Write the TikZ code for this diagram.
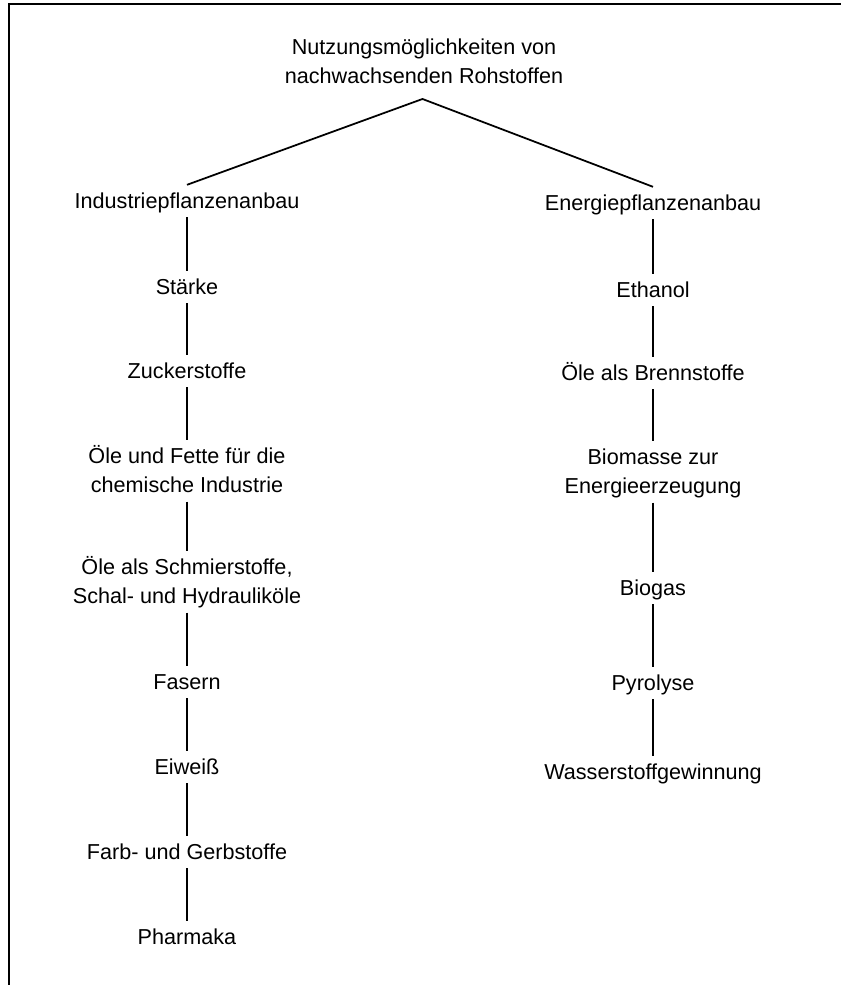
\documentclass[tikz,border=0pt]{standalone}
\usepackage{fontspec}
\setmainfont{Liberation Sans}

\begin{document}
\begin{tikzpicture}[
  item/.style={font=\fontsize{12.3}{16.5}\selectfont, align=center,
    inner sep=0pt, outer sep=4pt, text height=9.2pt, text depth=1.2pt},
  item2/.style={item, text height=25.7pt},
  link/.style={line width=1pt}
]

\useasboundingbox (0,0) rectangle (16.82,19.70);

% Frame (top and left edge only)
\draw[line width=1.5pt] (0.18,0) -- (0.18,19.62) -- (16.82,19.62);

% Title and branching point
\node[item2] (title) at (8.48,18.46) {Nutzungsmöglichkeiten von\\nachwachsenden Rohstoffen};
\coordinate (apex) at (8.45,17.72);

% Left branch
\node[item] (ind) at (3.74,15.68) {Industriepflanzenanbau};
\node[item] (staerke) at (3.74,13.96) {Stärke};
\node[item] (zucker) at (3.74,12.28) {Zuckerstoffe};
\node[item2] (fette) at (3.74,10.28) {Öle und Fette für die\\chemische Industrie};
\node[item2] (schmier) at (3.74,8.06) {Öle als Schmierstoffe,\\Schal- und Hydrauliköle};
\node[item] (fasern) at (3.74,6.06) {Fasern};
\node[item] (eiweiss) at (3.74,4.36) {Eiweiß};
\node[item] (farb) at (3.74,2.66) {Farb- und Gerbstoffe};
\node[item] (pharma) at (3.74,0.96) {Pharmaka};

% Right branch
\node[item] (ene) at (13.06,15.64) {Energiepflanzenanbau};
\node[item] (ethanol) at (13.06,13.90) {Ethanol};
\node[item] (brenn) at (13.06,12.24) {Öle als Brennstoffe};
\node[item2] (biomasse) at (13.06,10.26) {Biomasse zur\\Energieerzeugung};
\node[item] (biogas) at (13.06,7.94) {Biogas};
\node[item] (pyro) at (13.06,6.04) {Pyrolyse};
\node[item] (wasser) at (13.06,4.26) {Wasserstoffgewinnung};

% Connectors
\draw[link] (ind.north) -- (apex) -- (ene.north);
\draw[link] (ind) -- (staerke) -- (zucker) -- (fette) -- (schmier)
  -- (fasern) -- (eiweiss) -- (farb) -- (pharma);
\draw[link] (ene) -- (ethanol) -- (brenn) -- (biomasse) -- (biogas)
  -- (pyro) -- (wasser);

\end{tikzpicture}
\end{document}
